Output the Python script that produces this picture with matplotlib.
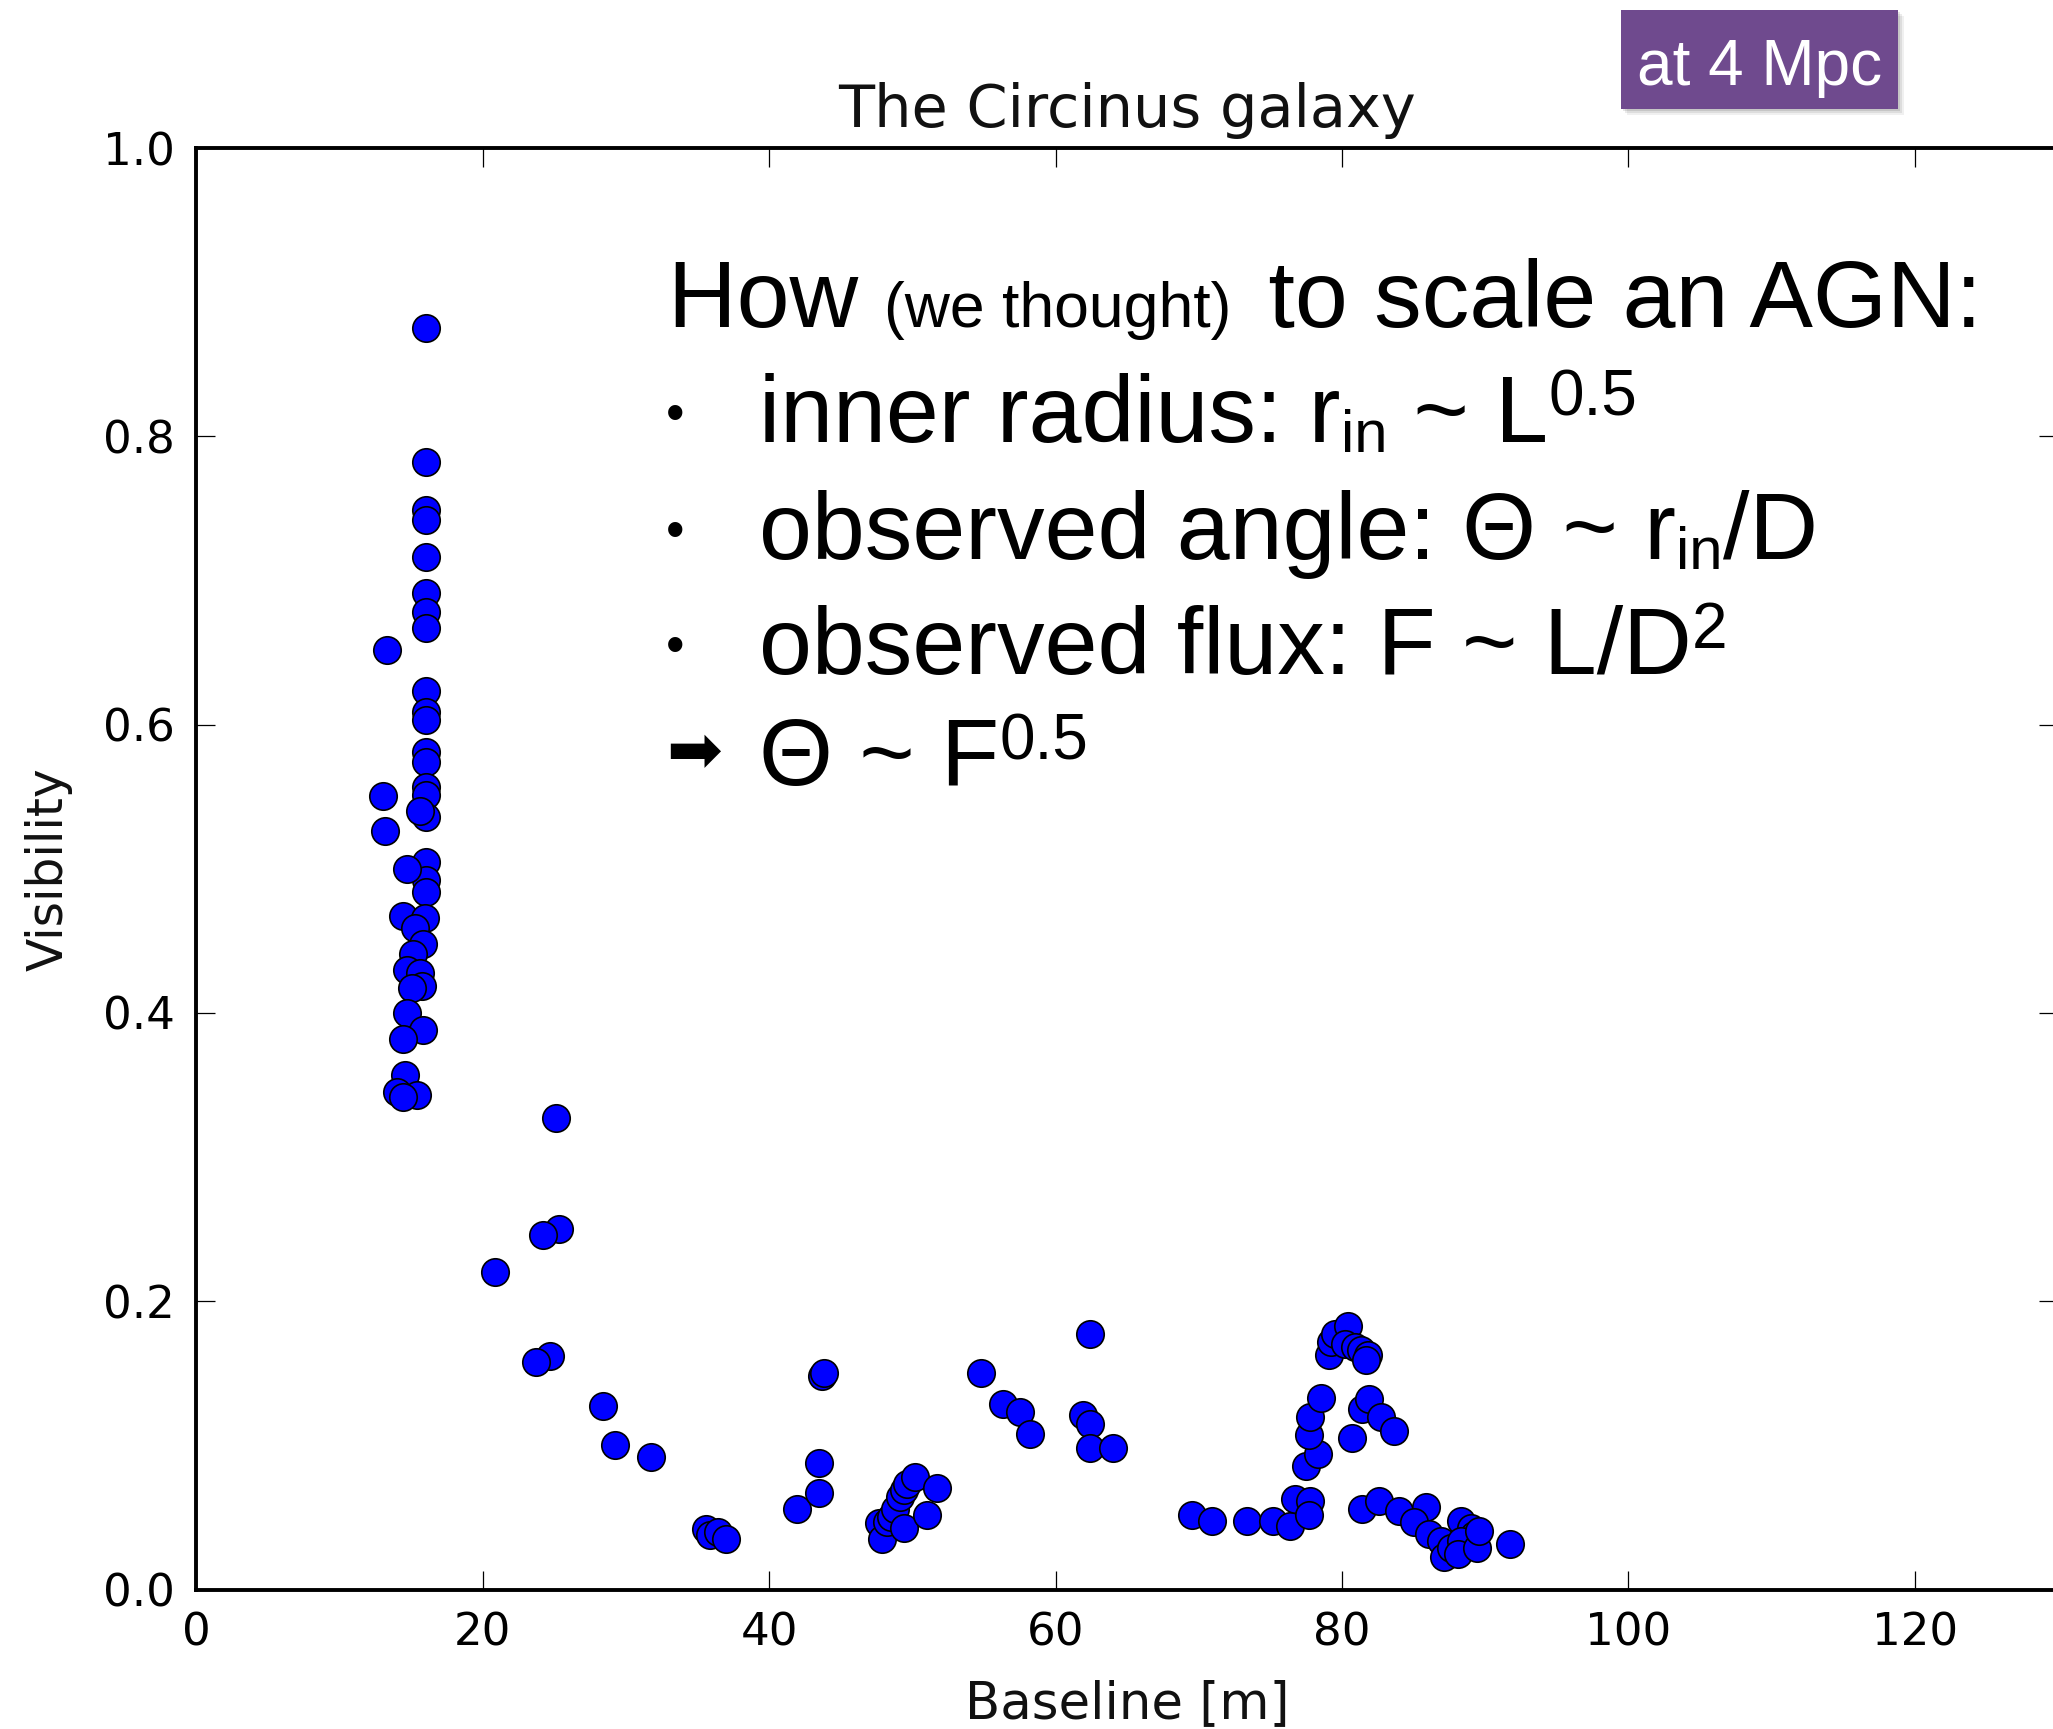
import matplotlib
matplotlib.use('Agg')
import matplotlib.pyplot as plt
import numpy as np
from matplotlib.patches import Rectangle

# ---------------- data (baseline [m], visibility) ----------------
baseline_short = [16.0, 16.0, 16.0, 16.0, 16.0, 16.0, 16.0, 16.0, 16.0, 16.0,
                  16.0, 16.0, 16.0, 16.0, 16.0, 16.0, 16.0, 16.0, 16.0,
                  13.3, 13.05, 13.2,
                  15.6, 14.7, 14.45, 15.95, 15.3, 15.85, 15.15, 14.7, 15.6,
                  15.75, 15.05, 14.7, 15.85, 14.45, 14.55, 14.0, 15.4, 14.45]
visibility_short = [0.875, 0.782, 0.749, 0.742, 0.7165, 0.691, 0.678, 0.667, 0.623, 0.609,
                    0.603, 0.581, 0.574, 0.557, 0.551, 0.536, 0.505, 0.492, 0.484,
                    0.652, 0.5505, 0.526,
                    0.540, 0.500, 0.467, 0.466, 0.459, 0.448, 0.441, 0.430, 0.4275,
                    0.419, 0.417, 0.400, 0.388, 0.382, 0.357, 0.345, 0.343, 0.342]

baseline_mid = [25.1, 25.3, 24.2, 20.85, 24.7, 23.7, 28.4, 29.25, 31.75,
                35.6, 35.9, 36.4, 37.0, 41.95, 43.45, 43.45, 43.7, 43.8,
                47.7, 47.9, 48.2, 48.5, 48.8, 49.1, 49.4, 49.6, 50.2, 49.4, 51.05, 51.7,
                54.8, 56.3, 57.5, 58.2, 61.9, 62.4, 62.4, 64.0, 62.4]
visibility_mid = [0.327, 0.250, 0.246, 0.2205, 0.162, 0.158, 0.127, 0.100, 0.0917,
                  0.042, 0.038, 0.040, 0.035, 0.056, 0.067, 0.0875, 0.148, 0.150,
                  0.046, 0.035, 0.047, 0.050, 0.056, 0.064, 0.069, 0.073, 0.078, 0.043, 0.052, 0.0706,
                  0.150, 0.129, 0.123, 0.108, 0.121, 0.115, 0.098, 0.098, 0.177]

baseline_long = [69.5, 70.9, 73.4, 75.2, 76.4, 76.7, 77.8, 77.7,
                 77.5, 78.3, 77.7, 77.8, 78.5,
                 79.1, 79.2, 79.5, 80.4, 80.2, 80.9, 81.3, 81.8, 81.7,
                 80.7, 81.4, 81.9, 82.7, 83.65,
                 81.4, 82.6, 84.0, 85.9, 85.05, 86.1, 86.9, 87.1, 87.6, 88.3, 89.0,
                 89.2, 88.8, 88.3, 88.1, 89.4, 89.6, 91.7]
visibility_long = [0.052, 0.0476, 0.0476, 0.0476, 0.044, 0.0627, 0.0615, 0.052,
                   0.086, 0.094, 0.107, 0.120, 0.133,
                   0.163, 0.172, 0.177, 0.183, 0.170, 0.168, 0.166, 0.163, 0.159,
                   0.105, 0.125, 0.132, 0.120, 0.110,
                   0.0557, 0.0615, 0.0546, 0.0569, 0.0465, 0.0384, 0.0338, 0.0222, 0.029, 0.0476, 0.043,
                   0.038, 0.0314, 0.0338, 0.0245, 0.029, 0.0407, 0.0314]

xticks = [0, 20, 40, 60, 80, 100, 120]
yticks = [0.0, 0.2, 0.4, 0.6, 0.8, 1.0]
ytick_labels = ['0.0', '0.2', '0.4', '0.6', '0.8', '1.0']

# ---------------- figure ----------------
W, H = 2053, 1729
fig = plt.figure(figsize=(W / 100, H / 100), dpi=100)
fig.patch.set_facecolor('white')

ax = fig.add_axes([196.4 / W, 1 - 1589.5 / H, (2058 - 196.4) / W, (1589.5 - 148) / H])

x_all = np.array(baseline_short + baseline_mid + baseline_long)
y_all = np.array(visibility_short + visibility_mid + visibility_long)
ax.scatter(x_all, y_all, s=390, c='#0000ff', edgecolors='black', linewidths=1.2, zorder=3)

ax.set_xlim(0, 130)
ax.set_ylim(0, 1)
ax.set_xticks(xticks)
ax.set_xticklabels([str(v) for v in xticks])
ax.set_yticks(yticks)
ax.set_yticklabels(ytick_labels)
ax.tick_params(direction='in', length=13.7, width=0.9, top=True, right=True,
               labelsize=32.5, pad=15.5, colors='black')
for sp in ax.spines.values():
    sp.set_linewidth(2.8)

ax.set_title('The Circinus galaxy', fontsize=42.5, pad=15, color='#111111')
ax.set_xlabel('Baseline [m]', fontsize=37, labelpad=18, color='#111111')
ax.set_ylabel('Visibility', fontsize=35, labelpad=22, color='#111111')

# ---------------- annotation text ----------------
def fx(px):
    return px / W

def fy(py):
    return 1 - py / H

renderer = fig.canvas.get_renderer()
sans = ['Liberation Sans', 'DejaVu Sans']
MAIN = 68.5
SMALL = 45
SUP = 46
SUB = 43
SUB_DY = -10   # subscript baseline shift (px, downward)
SUP_DY = 26    # superscript baseline shift (px, upward)

def chain(pieces, x0, base_y):
    x = x0
    for txt, size, dy, gap in pieces:
        t = fig.text(fx(x + gap), fy(base_y - dy), txt, fontsize=size, family=sans,
                     va='baseline', ha='left', color='black')
        bb = t.get_window_extent(renderer)
        x = bb.x1

chain([('How ', MAIN, 0, 0), ('(we thought)', SMALL, 0, 0), (' to scale an AGN:', MAIN, 0, 10)],
      667.7, 327)

text_x = 759.4
chain([('inner radius: r', MAIN, 0, 0), ('in', SUB, SUB_DY, 0), (' ~ L', MAIN, 0, 0),
       ('0.5', SUP, SUP_DY, 0)], text_x, 442)
chain([('observed angle: Θ ~ r', MAIN, 0, 0), ('in', SUB, SUB_DY, 0), ('/D', MAIN, 0, 0)],
      text_x, 559)
chain([('observed flux: F ~ L/D', MAIN, 0, 0), ('2', SUP, SUP_DY, 0)], text_x, 674)
chain([('Θ ~ F', MAIN, 0, 0), ('0.5', SUP, SUP_DY, 0)], text_x, 785)

for by in [442, 559, 674]:
    fig.text(fx(675), fy(by - 25), '•', fontsize=38, family=sans, va='center', ha='center')

fig.text(fx(694), fy(753), '➡', fontsize=48, family=['DejaVu Sans'], va='center', ha='center')

# ---------------- "at 4 Mpc" label ----------------
bx0, bx1, by0, by1 = 1621, 1898, 10, 109
for i, a in enumerate([0.10, 0.08, 0.06]):
    off = 2 + 2 * i
    fig.patches.append(Rectangle((fx(bx0 + off), fy(by1 + off)), (bx1 - bx0) / W, (by1 - by0) / H,
                                 transform=fig.transFigure, facecolor='black', alpha=a,
                                 edgecolor='none', zorder=1))
fig.patches.append(Rectangle((fx(bx0), fy(by1)), (bx1 - bx0) / W, (by1 - by0) / H,
                             transform=fig.transFigure, facecolor='#6f4a8e',
                             edgecolor='none', zorder=2))
fig.text(fx((bx0 + bx1) / 2), fy(85), 'at 4 Mpc', fontsize=46, family=sans,
         color='white', va='baseline', ha='center', zorder=3)

fig.savefig('out.png', dpi=100)
